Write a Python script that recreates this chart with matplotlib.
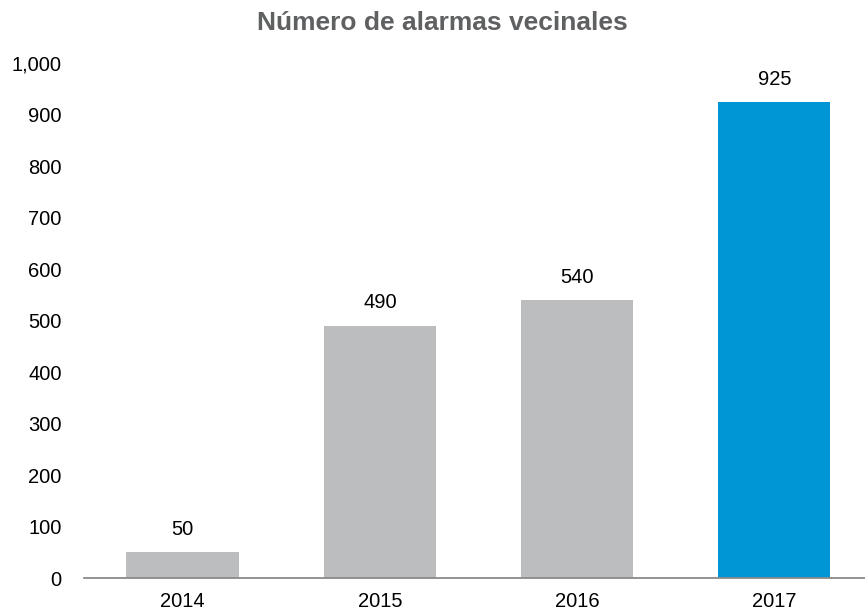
import matplotlib.pyplot as plt
from matplotlib.ticker import FuncFormatter

# datos
anios = ["2014", "2015", "2016", "2017"]
alarmas = [50, 490, 540, 925]
colores = ["#bcbdbf", "#bcbdbf", "#bcbdbf", "#0096d6"]
yticks = [0, 100, 200, 300, 400, 500, 600, 700, 800, 900, 1000]

plt.rcParams["font.family"] = ["Liberation Sans", "DejaVu Sans"]

fig = plt.figure(figsize=(8.65, 6.14), dpi=100)
ax = fig.add_axes([0.0971, 0.0586, 0.9029, 0.838])

x = list(range(len(anios)))
ax.bar(x, alarmas, width=0.57, color=colores, zorder=2)

# etiquetas de valor sobre las barras
for xi, v in zip(x, alarmas):
    ax.annotate(f"{v:,}", (xi, v), xytext=(0, 16.5), textcoords="offset points",
                ha="center", va="center", fontsize=14.5, color="black")

ax.set_xlim(-0.5, 3.46)
ax.set_ylim(0, 1000)
ax.set_xticks(x)
ax.set_xticklabels(anios)
ax.set_yticks(yticks)
ax.yaxis.set_major_formatter(FuncFormatter(lambda v, p: f"{int(v):,}"))
ax.tick_params(axis="both", length=0, labelsize=14.5, colors="black")
ax.tick_params(axis="y", pad=16)
ax.tick_params(axis="x", pad=10)

ax.spines[["top", "right", "left"]].set_visible(False)
ax.spines["bottom"].set_color("#8a8a8a")
ax.spines["bottom"].set_linewidth(1.3)

fig.text(0.511, 0.9625, "Número de alarmas vecinales", ha="center", va="center",
         fontsize=19, fontweight="bold", color="#5f6062")

fig.savefig("out.png", dpi=100)
